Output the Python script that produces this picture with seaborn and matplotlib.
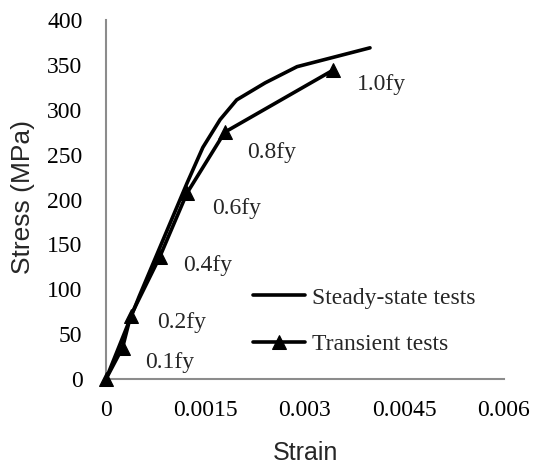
import matplotlib
matplotlib.use("Agg")
import matplotlib.pyplot as plt
import seaborn as sns
import pandas as pd

# Data
steady_strain = [0.0, 0.0005, 0.00122, 0.00146, 0.00172, 0.00197, 0.0024, 0.00288, 0.00398]
steady_stress = [0.0, 92, 218, 258, 289, 311, 330, 348, 369]

trans_strain = [0.0, 0.00025, 0.00037, 0.00081, 0.00122, 0.00179, 0.00342]
trans_stress = [0.0, 35, 70, 136, 207, 275, 344]
trans_labels = ["", "0.1fy", "0.2fy", "0.4fy", "0.6fy", "0.8fy", "1.0fy"]
label_x = [None, 0.000588, 0.000769, 0.00117, 0.00160, 0.00213, 0.00378]
label_y = [None, 18, 63, 127, 190, 252, 328]

x_ticks = [0, 0.0015, 0.003, 0.0045, 0.006]
x_ticklabels = ["0", "0.0015", "0.003", "0.0045", "0.006"]
y_ticks = [0, 50, 100, 150, 200, 250, 300, 350, 400]

sns.set_style("white")
serif = "Liberation Serif"
sans = "Liberation Sans"
FS = 17

fig = plt.figure(figsize=(5.36, 4.65), dpi=100)
ax = fig.add_axes([106/536, 1-379/465, 398/536, 359/465])

df_s = pd.DataFrame({"Strain": steady_strain, "Stress": steady_stress})
df_t = pd.DataFrame({"Strain": trans_strain, "Stress": trans_stress})

sns.lineplot(data=df_s, x="Strain", y="Stress", sort=False, estimator=None,
             color="black", linewidth=2.6, ax=ax, label="Steady-state tests",
             clip_on=False)
sns.lineplot(data=df_t, x="Strain", y="Stress", sort=False, estimator=None,
             color="black", linewidth=2.6, marker="^", markersize=10,
             markeredgecolor="black", ax=ax, label="Transient tests",
             clip_on=False)

for lx, ly, t in zip(label_x, label_y, trans_labels):
    if t:
        ax.text(lx, ly, t, fontsize=FS, family=serif, ha="left", va="center")

ax.set_xlim(0, 0.006)
ax.set_ylim(0, 400)
ax.set_xticks(x_ticks)
ax.set_xticklabels(x_ticklabels)
ax.set_yticks(y_ticks)
for lab in ax.get_xticklabels() + ax.get_yticklabels():
    lab.set_family(serif)
    lab.set_fontsize(FS)

gray = "#8c8c8c"
for s in ["top", "right"]:
    ax.spines[s].set_visible(False)
for s in ["left", "bottom"]:
    ax.spines[s].set_color(gray)
    ax.spines[s].set_linewidth(1.5)
    ax.spines[s].set_zorder(0.5)
ax.tick_params(axis="both", direction="in", length=4, width=1.5, color=gray,
               labelcolor="black", pad=15)
ax.tick_params(axis="y", pad=17)

ax.set_xlabel("Strain", fontsize=18, family=sans)
ax.set_ylabel("Stress (MPa)", fontsize=19, family=sans)
ax.xaxis.set_label_coords(0.5, -0.172)
ax.yaxis.set_label_coords(-0.178, 0.506)

leg = ax.legend(loc="center left", bbox_to_anchor=(0.369, 0.1615), frameon=False,
                prop={"family": serif, "size": FS}, handlelength=2.2,
                handletextpad=0.3, labelspacing=1.06, borderpad=0, borderaxespad=0)

fig.savefig("out.png", dpi=100)
